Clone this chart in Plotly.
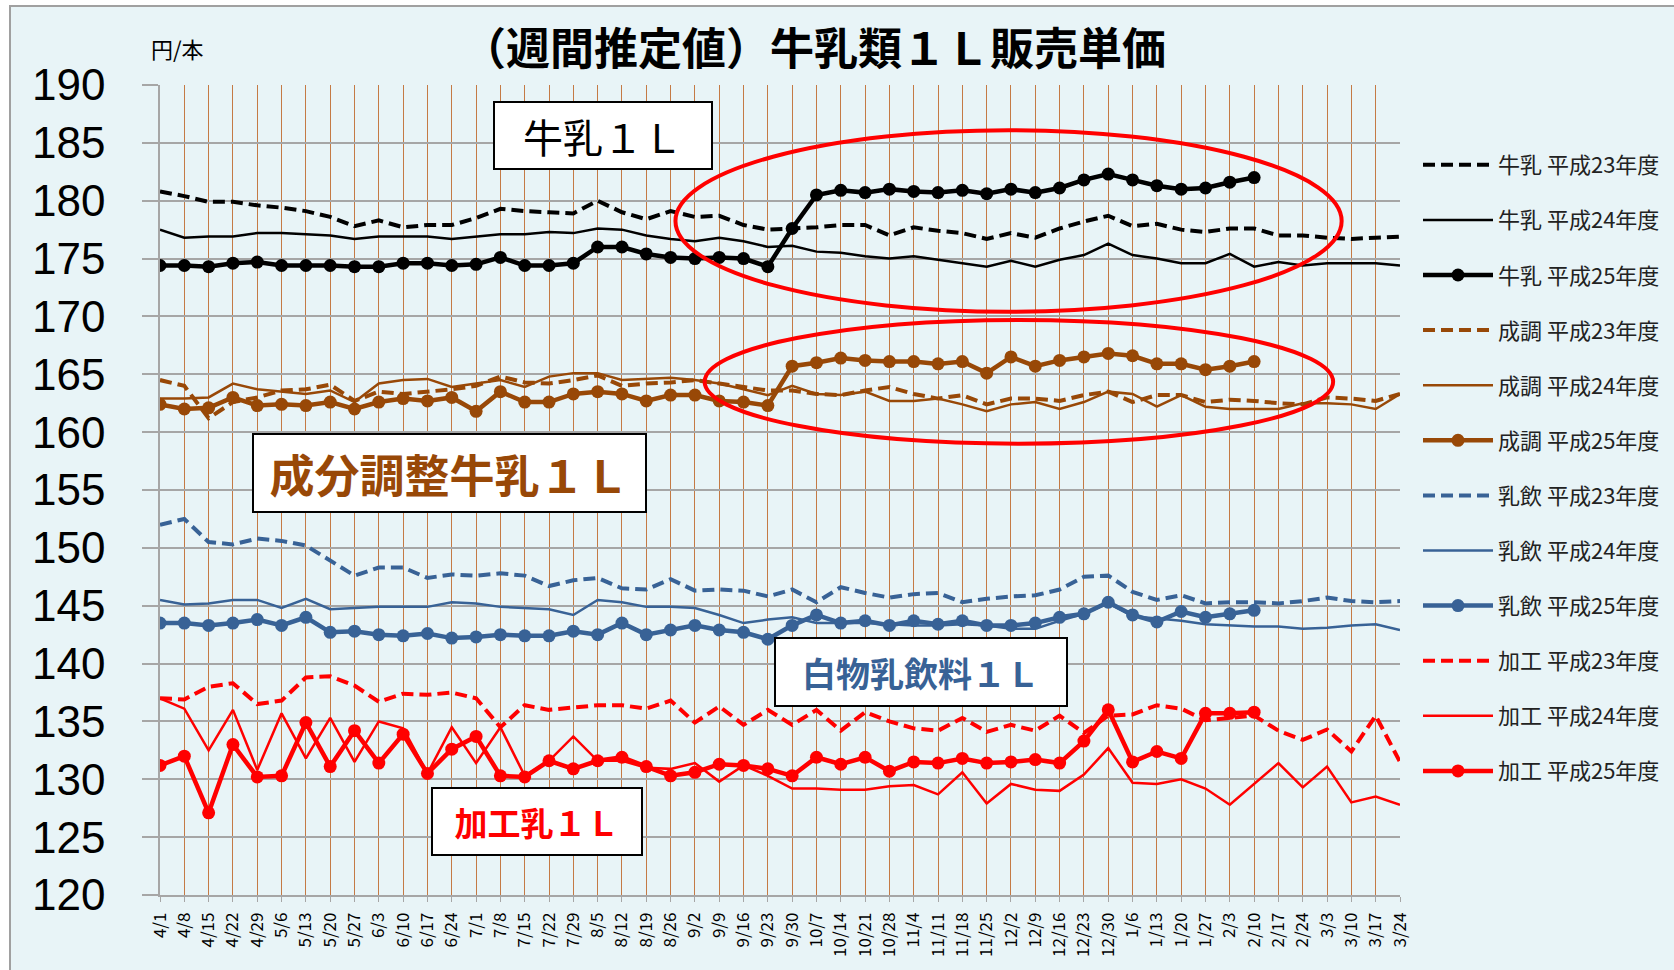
import plotly.graph_objects as go

weeks = ["4/1","4/8","4/15","4/22","4/29","5/6","5/13","5/20","5/27","6/3","6/10","6/17","6/24",
         "7/1","7/8","7/15","7/22","7/29","8/5","8/12","8/19","8/26","9/2","9/9","9/16","9/23",
         "9/30","10/7","10/14","10/21","10/28","11/4","11/11","11/18","11/25","12/2","12/9","12/16",
         "12/23","12/30","1/6","1/13","1/20","1/27","2/3","2/10","2/17","2/24","3/3","3/10","3/17","3/24"]

milk_h23 = [180.8,180.4,179.9,179.9,179.6,179.4,179.1,178.6,177.8,178.3,177.7,177.9,177.9,178.5,179.3,179.1,
            179.0,178.9,180.0,179.0,178.4,179.1,178.6,178.7,177.9,177.5,
            177.6,177.7,177.9,177.9,177.0,177.7,177.4,177.2,176.7,177.2,176.8,177.6,178.2,178.7,177.8,178.0,
            177.5,177.3,177.6,177.6,177.0,177.0,176.8,176.7,176.8,176.9]
milk_h24 = [177.5,176.8,176.9,176.9,177.2,177.2,177.1,177.0,176.7,176.9,176.9,176.9,176.7,176.9,177.1,177.1,
            177.3,177.2,177.6,177.5,177.0,176.7,176.5,176.8,176.5,176.0,
            176.1,175.6,175.5,175.2,175.0,175.2,174.9,174.6,174.3,174.8,174.3,174.9,175.3,176.3,175.3,175.0,
            174.6,174.6,175.4,174.3,174.7,174.4,174.6,174.6,174.6,174.4]
milk_h25 = [174.4,174.4,174.3,174.6,174.7,174.4,174.4,174.4,174.3,174.3,174.6,174.6,174.4,174.5,175.1,174.4,
            174.4,174.6,176.0,176.0,175.4,175.1,175.0,175.1,175.0,174.3,
            177.6,180.5,180.9,180.7,181.0,180.8,180.7,180.9,180.6,181.0,180.7,181.1,181.8,182.3,181.8,181.3,
            181.0,181.1,181.6,182.0]

seicho_h23 = [164.5,164.0,161.2,162.6,163.0,163.6,163.7,164.1,162.7,163.5,163.3,163.5,163.7,164.0,164.8,164.3,
              164.2,164.5,164.9,164.0,164.2,164.3,164.5,164.2,163.9,163.6,
              163.6,163.3,163.2,163.6,163.9,163.3,162.9,163.2,162.4,162.9,162.9,162.7,163.2,163.5,162.6,163.2,
              163.2,162.6,162.8,162.7,162.5,162.4,163.0,162.9,162.7,163.3]
seicho_h24 = [162.9,162.9,163.0,164.2,163.7,163.5,163.3,163.6,162.6,164.2,164.5,164.6,163.9,164.2,164.5,163.9,
              164.8,165.1,165.1,164.5,164.6,164.7,164.5,164.2,163.7,163.2,
              164.0,163.3,163.2,163.5,162.7,162.7,162.9,162.4,161.8,162.4,162.6,162.0,162.6,163.5,163.3,162.2,
              163.2,162.2,162.0,162.0,162.0,162.5,162.5,162.4,162.0,163.3]
seicho_h25 = [162.4,162.0,162.1,163.0,162.3,162.4,162.3,162.6,162.0,162.6,162.9,162.7,163.0,161.8,163.5,162.6,
              162.6,163.3,163.5,163.3,162.7,163.2,163.2,162.7,162.6,162.3,
              165.7,166.0,166.4,166.2,166.1,166.1,165.9,166.1,165.1,166.5,165.7,166.2,166.5,166.8,166.6,165.9,
              165.9,165.4,165.7,166.1]

nyuin_h23 = [152.0,152.5,150.5,150.3,150.8,150.6,150.2,148.9,147.6,148.3,148.3,147.4,147.7,147.6,147.8,147.6,
             146.7,147.2,147.4,146.5,146.4,147.3,146.3,146.4,146.3,145.8,
             146.4,145.3,146.6,146.1,145.7,146.0,146.1,145.3,145.6,145.8,145.9,146.4,147.5,147.6,146.2,145.5,
             145.9,145.2,145.3,145.3,145.2,145.4,145.7,145.4,145.3,145.4]
nyuin_h24 = [145.5,145.1,145.2,145.5,145.5,144.8,145.6,144.7,144.8,144.9,144.9,144.9,145.3,145.2,144.9,144.8,
             144.7,144.2,145.5,145.3,144.9,144.9,144.8,144.2,143.5,143.8,
             144.0,143.5,143.5,143.5,143.4,143.3,143.3,143.4,143.3,143.0,143.0,143.7,144.3,145.2,144.1,143.9,
             143.7,143.4,143.3,143.2,143.2,143.0,143.1,143.3,143.4,142.9]
nyuin_h25 = [143.5,143.5,143.3,143.5,143.8,143.3,144.0,142.7,142.8,142.5,142.4,142.6,142.2,142.3,142.5,142.4,
             142.4,142.8,142.5,143.5,142.5,142.9,143.3,142.9,142.7,142.1,
             143.3,144.2,143.5,143.7,143.3,143.7,143.4,143.7,143.3,143.3,143.5,144.0,144.3,145.3,144.2,143.6,
             144.5,144.0,144.3,144.6]

kako_h23 = [137.0,136.9,138.0,138.3,136.5,136.8,138.8,138.9,138.1,136.7,137.4,137.3,137.5,137.0,134.5,136.4,
            136.0,136.2,136.4,136.4,136.1,136.8,134.9,136.3,134.7,136.0,
            134.7,136.0,134.2,135.8,135.0,134.4,134.2,135.3,134.1,134.7,134.2,135.5,134.0,135.5,135.6,136.4,
            136.1,135.1,135.3,135.5,134.2,133.4,134.3,132.4,135.5,131.5]
kako_h24 = [137.0,136.1,132.5,136.0,130.8,135.7,131.8,135.3,131.5,135.0,134.4,130.5,134.5,131.4,134.5,130.3,
            131.6,133.7,131.6,131.6,131.0,130.9,131.4,129.8,131.2,130.3,
            129.2,129.2,129.1,129.1,129.4,129.5,128.7,130.6,127.9,129.6,129.1,129.0,130.4,132.7,129.7,129.6,
            130.0,129.2,127.8,129.6,131.4,129.3,131.1,128.0,128.5,127.8]
kako_h25 = [131.2,132.0,127.1,133.0,130.2,130.3,134.9,131.1,134.2,131.4,133.9,130.5,132.6,133.7,130.3,130.2,
            131.6,130.9,131.6,131.9,131.1,130.3,130.6,131.3,131.2,130.9,
            130.3,131.9,131.3,131.9,130.7,131.5,131.4,131.8,131.4,131.5,131.7,131.4,133.3,136.0,131.5,132.4,
            131.8,135.7,135.7,135.8]

products = ["牛乳", "成調", "乳飲", "加工"]
years = ["平成23年度", "平成24年度", "平成25年度"]
series = {
    "牛乳": [milk_h23, milk_h24, milk_h25],
    "成調": [seicho_h23, seicho_h24, seicho_h25],
    "乳飲": [nyuin_h23, nyuin_h24, nyuin_h25],
    "加工": [kako_h23, kako_h24, kako_h25],
}
colors = {"牛乳": "#000000", "成調": "#984807", "乳飲": "#386296", "加工": "#FF0000"}

FONT = "Noto Sans CJK JP"
fig = go.Figure()

k = 0
for p in products:
    for yi, yr in enumerate(years):
        vals = series[p][yi]
        c = colors[p]
        if yi == 0:
            line = dict(color=c, width=4, dash="12px,6px")
            mode = "lines"
            marker = None
        elif yi == 1:
            line = dict(color=c, width=2.5)
            mode = "lines"
            marker = None
        else:
            line = dict(color=c, width=4.5)
            mode = "lines+markers"
            marker = dict(size=13, color=c)
        fig.add_trace(go.Scatter(
            x=weeks[:len(vals)], y=vals, mode=mode, line=line, marker=marker,
            name=f"{p} {yr}", legendgroup=f"g{k}", hoverinfo="x+y+name"))
        k += 1

# plot area: x 160..1400 px, y 85..895 px
def px_x(px):
    return (px - 160) / 1240.0

def px_y(py):
    return (895 - py) / 810.0

fig.update_layout(
    width=1674, height=970,
    margin=dict(l=160, r=274, t=85, b=75, autoexpand=False),
    paper_bgcolor="#FFFFFF",
    plot_bgcolor="#FFFFFF",
    font=dict(family=FONT, color="#000000"),
    title=dict(text="<b>（週間推定値）牛乳類１Ｌ販売単価</b>", x=px_x(814), xref="paper",
               xanchor="center", y=1 - 50 / 970, yref="container", yanchor="middle",
               font=dict(family=FONT, size=44, color="#000000")),
    xaxis=dict(type="category", categoryorder="array", categoryarray=weeks, range=[0, 51],
               showgrid=True, gridcolor="#C47A45", gridwidth=1,
               showline=True, linecolor="#A6A6A6", linewidth=1.5,
               ticks="outside", ticklen=5, tickcolor="#A6A6A6", tickangle=-90,
               ticklabelstandoff=4,
               tickfont=dict(family=FONT, size=17, color="#000000"), zeroline=False),
    yaxis=dict(range=[120, 190], dtick=5, tick0=120,
               showgrid=True, gridcolor="#A6A6A6", gridwidth=1.5,
               showline=True, linecolor="#A6A6A6", linewidth=1.5,
               ticks="outside", ticklen=16, tickcolor="#A6A6A6", tickwidth=1.5,
               ticklabelstandoff=28,
               tickfont=dict(family="Liberation Sans", size=44, color="#000000"), zeroline=False),
    legend=dict(x=px_x(1418), y=px_y(144), xanchor="left", yanchor="top",
                bgcolor="rgba(0,0,0,0)", font=dict(family=FONT, size=22, color="#222222"),
                tracegroupgap=23.5, itemwidth=70, traceorder="grouped"),
    showlegend=True,
)

# chart background panel
fig.add_shape(type="rect", xref="paper", yref="paper",
              x0=px_x(10), x1=px_x(1690), y0=px_y(985), y1=px_y(6),
              fillcolor="#E8F4F7", line=dict(color="#A0A0A0", width=2), layer="below")

# highlight ellipses
fig.add_shape(type="circle", xref="x", yref="y", x0=21.2, x1=48.6, y0=170.4, y1=186.1,
              line=dict(color="#FF0000", width=4))
fig.add_shape(type="circle", xref="x", yref="y", x0=22.4, x1=48.25, y0=159.0, y1=169.7,
              line=dict(color="#FF0000", width=4))

boxes = [
    ("牛乳１Ｌ", 18.2, 185.6, 40, "#000000", False, 212, 61),
    ("成分調整牛乳１Ｌ", 11.9, 156.5, 45, "#984807", True, 387, 72),
    ("白物乳飲料１Ｌ", 31.3, 139.3, 34, "#386296", True, 286, 62),
    ("加工乳１Ｌ", 15.5, 126.35, 33, "#FF0000", True, 204, 61),
]
for txt, bx, by, fs, fc, bold, w, h in boxes:
    fig.add_annotation(x=bx, y=by, xref="x", yref="y", text=f"<b>{txt}</b>" if bold else txt,
                       showarrow=False, font=dict(family=FONT, size=fs, color=fc),
                       bgcolor="#FFFFFF", bordercolor="#000000", borderwidth=2, borderpad=2,
                       width=w, height=h, xanchor="center", yanchor="middle")

fig.add_annotation(x=px_x(177), y=px_y(48), xref="paper", yref="paper", text="円/本",
                   showarrow=False, font=dict(family=FONT, size=22, color="#000000"),
                   xanchor="center", yanchor="middle")

fig.write_html("out.html", config={"displayModeBar": False},
               post_script="document.body.style.margin='0';")
